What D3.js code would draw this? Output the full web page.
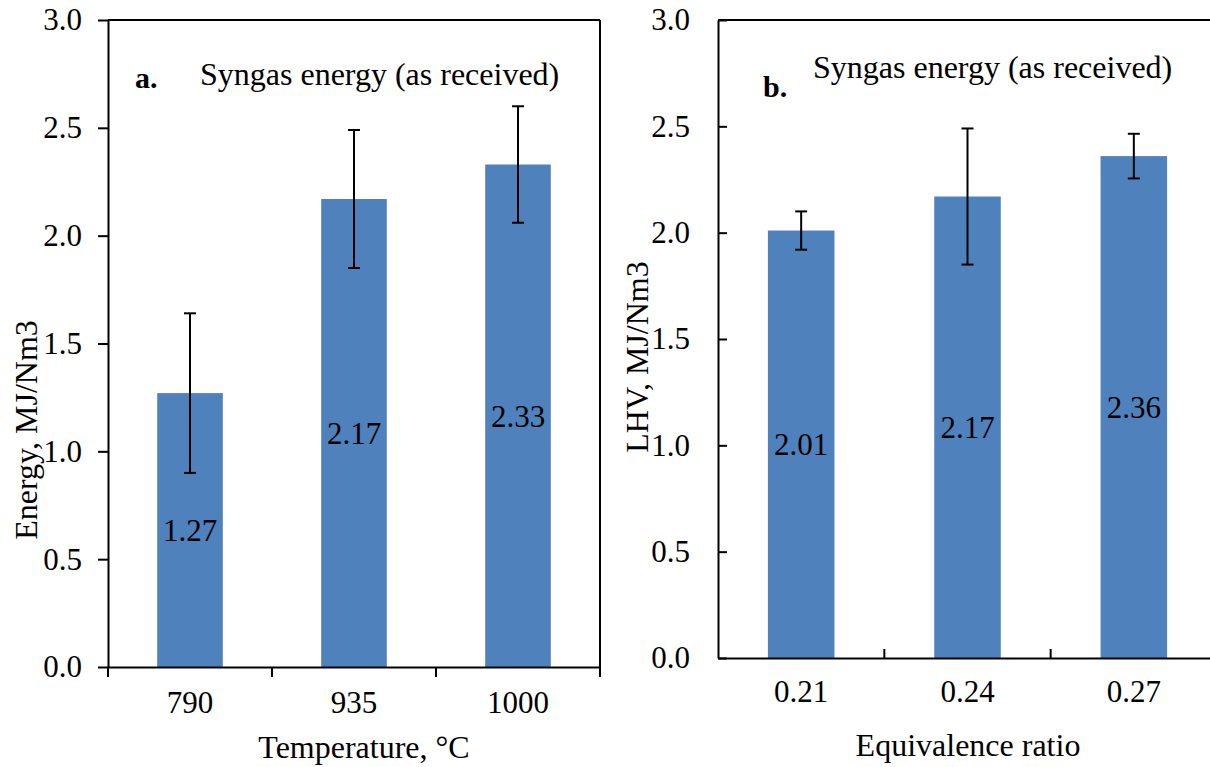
<!DOCTYPE html>
<html>
<head>
<meta charset="utf-8">
<script src="https://cdn.jsdelivr.net/npm/d3@7"></script>
<style>
  html, body { margin: 0; padding: 0; background: #fff; }
  svg { display: block; }
</style>
</head>
<body>
<svg id="chart" width="1210" height="767"></svg>
<script>
// Panel a: syngas energy against gasification temperature
const tempCategories = ["790", "935", "1000"];
const tempEnergy = [1.27, 2.17, 2.33];
const tempError = [0.37, 0.32, 0.27];

// Panel b: syngas LHV against equivalence ratio
const erCategories = ["0.21", "0.24", "0.27"];
const erLHV = [2.01, 2.17, 2.36];
const erError = [0.09, 0.32, 0.105];

const yTickValues = [0, 0.5, 1.0, 1.5, 2.0, 2.5, 3.0];

const BAR = "#4f81bd";
const FONT = '"Liberation Serif", "Times New Roman", serif';
const svg = d3.select("#chart");

function serif(sel, size) {
  return sel.style("font-family", FONT).style("font-size", size + "px").style("fill", "#000");
}

function panel(cfg) {
  const g = svg.append("g");
  const x = d3.scaleBand().domain(cfg.categories).range([cfg.left, cfg.right])
    .paddingInner(0.6).paddingOuter(0.3);
  const y = d3.scaleLinear().domain([0, 3]).range([cfg.bottom, cfg.top]);
  const rows = cfg.categories.map((c, i) => ({ c, v: cfg.values[i], e: cfg.errors[i] }));
  const cx = d => x(d.c) + x.bandwidth() / 2;

  // bars
  g.selectAll("rect.bar").data(rows).join("rect")
    .attr("class", "bar")
    .attr("x", d => x(d.c))
    .attr("width", x.bandwidth())
    .attr("y", d => y(d.v))
    .attr("height", d => y(0) - y(d.v))
    .attr("fill", BAR);

  // value labels in the middle of each bar
  serif(g.selectAll("text.val").data(rows).join("text"), 31)
    .attr("class", "val")
    .attr("x", cx)
    .attr("y", d => y(d.v / 2))
    .attr("dy", "0.35em")
    .attr("text-anchor", "middle")
    .text(d => d.v.toFixed(2));

  // error bars
  const cap = 6;
  const eb = g.selectAll("g.err").data(rows).join("g").attr("class", "err")
    .attr("stroke", "#000").attr("stroke-width", 2);
  eb.append("line")
    .attr("x1", cx).attr("x2", cx)
    .attr("y1", d => y(d.v + d.e)).attr("y2", d => y(d.v - d.e));
  eb.append("line")
    .attr("x1", d => cx(d) - cap).attr("x2", d => cx(d) + cap)
    .attr("y1", d => y(d.v + d.e)).attr("y2", d => y(d.v + d.e));
  eb.append("line")
    .attr("x1", d => cx(d) - cap).attr("x2", d => cx(d) + cap)
    .attr("y1", d => y(d.v - d.e)).attr("y2", d => y(d.v - d.e));

  // frame lines (top and right)
  const frame = g.append("g").attr("stroke", "#000").attr("stroke-width", 2);
  frame.append("line").attr("x1", cfg.left).attr("x2", cfg.right)
    .attr("y1", cfg.top).attr("y2", cfg.top);
  frame.append("line").attr("x1", cfg.right).attr("x2", cfg.right)
    .attr("y1", cfg.top).attr("y2", cfg.bottom);

  // y axis
  const yAxis = d3.axisLeft(y).tickValues(yTickValues)
    .tickFormat(d3.format(".1f"))
    .tickSizeOuter(0)
    .tickSizeInner(cfg.inward ? -9 : 10)
    .tickPadding(cfg.inward ? 28 : 16);
  const ya = g.append("g").attr("transform", `translate(${cfg.left},0)`).call(yAxis);
  ya.select(".domain").attr("stroke", "#000").attr("stroke-width", 2);
  ya.selectAll(".tick line").attr("stroke", "#000").attr("stroke-width", 2);
  serif(ya.selectAll(".tick text"), 31);

  // x axis: category labels, ticks at category boundaries
  const xAxis = d3.axisBottom(x).tickSize(0).tickPadding(cfg.xPad);
  const xa = g.append("g").attr("transform", `translate(0,${cfg.bottom})`).call(xAxis);
  xa.select(".domain").attr("stroke", "#000").attr("stroke-width", 2);
  serif(xa.selectAll(".tick text"), 31);
  const bounds = d3.range(cfg.categories.length + 1)
    .map(i => cfg.left + i * x.step())
    .filter((b, i) => cfg.inward ? (i > 0 && i < cfg.categories.length) : true);
  xa.selectAll("line.bound").data(bounds).join("line")
    .attr("class", "bound")
    .attr("x1", d => d).attr("x2", d => d)
    .attr("y1", 0).attr("y2", cfg.inward ? -9 : 10)
    .attr("stroke", "#000").attr("stroke-width", 2);

  // axis titles
  serif(g.append("text"), 32)
    .attr("x", cfg.xTitleX).attr("y", cfg.xTitleY)
    .attr("text-anchor", "middle")
    .text(cfg.xTitle);
  serif(g.append("text"), 32)
    .attr("transform", `translate(${cfg.yTitleX},${cfg.yTitleY}) rotate(-90)`)
    .attr("text-anchor", "middle")
    .text(cfg.yTitle);

  // panel letter and heading
  serif(g.append("text"), 30).style("font-weight", "bold")
    .attr("x", cfg.letterX).attr("y", cfg.letterY).text(cfg.letter);
  serif(g.append("text"), 32)
    .attr("x", cfg.headX).attr("y", cfg.headY)
    .text("Syngas energy (as received)");
}

panel({
  categories: tempCategories, values: tempEnergy, errors: tempError,
  left: 108, right: 600, top: 20, bottom: 667, inward: false, xPad: 24,
  xTitle: "Temperature, °C", xTitleX: 364, xTitleY: 758,
  yTitle: "Energy, MJ/Nm3", yTitleX: 37, yTitleY: 430,
  letter: "a.", letterX: 135, letterY: 88,
  headX: 200, headY: 85
});

panel({
  categories: erCategories, values: erLHV, errors: erError,
  left: 718, right: 1217, top: 20, bottom: 658, inward: true, xPad: 22,
  xTitle: "Equivalence ratio", xTitleX: 968, xTitleY: 756,
  yTitle: "LHV, MJ/Nm3", yTitleX: 648, yTitleY: 357,
  letter: "b.", letterX: 763, letterY: 97,
  headX: 813, headY: 78
});
</script>
</body>
</html>
